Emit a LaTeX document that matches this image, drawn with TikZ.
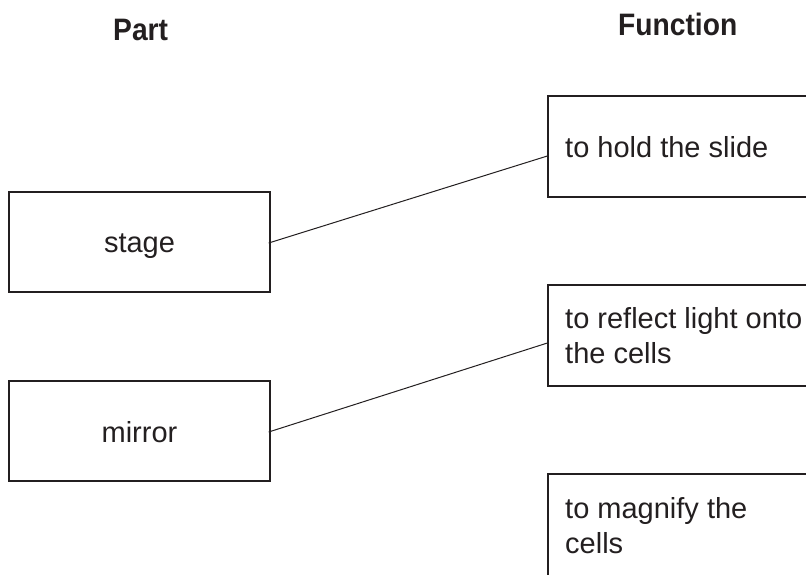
\documentclass[tikz,border=0pt]{standalone}
\usepackage{fontspec}
\setmainfont{Liberation Sans}
\usetikzlibrary{calc}
\definecolor{ink}{HTML}{231F20}
\tikzset{
  box/.style={draw=ink, line width=1.3pt, rectangle, inner sep=0pt},
  txt/.style={text=ink, inner sep=0pt, font=\fontsize{29}{35}\selectfont, align=left},
  head/.style={text=ink, inner sep=0pt, font=\fontsize{31}{35}\selectfont\bfseries},
  link/.style={draw=ink, line width=1pt}
}
\newcommand{\narrowhead}[1]{\scalebox{0.91}[1]{#1}}
\begin{document}
\begin{tikzpicture}[x=1pt,y=-1pt]
\clip (0,0) rectangle (806,574);
\fill[white] (0,0) rectangle (806,574);
% headings
\node[head, anchor=base west] (hpart) at (113,40) {\narrowhead{Part}};
\node[head, anchor=base west] (hfunc) at (618,35) {\narrowhead{Function}};
% left boxes
\node[box, minimum width=261pt, minimum height=100pt] (stage) at (139.5,242) {};
\node[txt, anchor=base] (stagetxt) at (139.5,252) {stage};
\node[box, minimum width=261pt, minimum height=100pt] (mirror) at (139.5,431) {};
\node[txt, anchor=base] (mirrortxt) at (139.5,442) {mirror};
% right boxes (open to the right edge)
\node[box, minimum width=282pt, minimum height=101pt] (hold) at (689,146.5) {};
\node[txt, anchor=base west] (holdtxt) at (565,157) {to hold the slide};
\node[box, minimum width=282pt, minimum height=101pt] (reflect) at (689,335.5) {};
\node[txt, anchor=base west] (reflecttxt) at (565,363) {to reflect light onto\\the cells};
\node[box, minimum width=282pt, minimum height=126pt] (magnify) at (689,537) {};
\node[txt, anchor=base west] (magnifytxt) at (565,553) {to magnify the\\cells};
% connectors
\draw[link] ($(stage.east)+(-2,1)$) -- ($(hold.west)+(0,9.5)$);
\draw[link] ($(mirror.east)+(-2,1)$) -- ($(reflect.west)+(0,7.5)$);
\end{tikzpicture}
\end{document}
